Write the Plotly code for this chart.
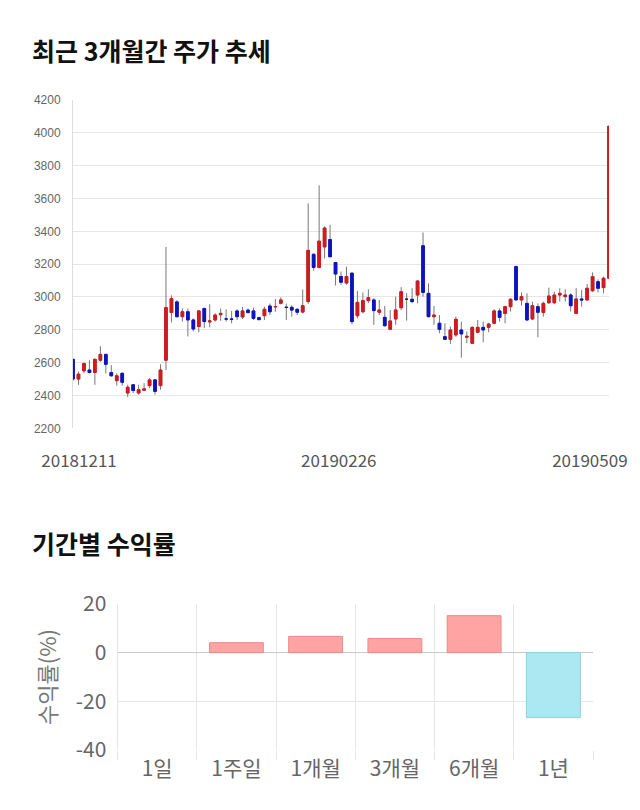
import plotly.graph_objects as go

# ---- price data (OHLC) ----
opens = [2620, 2500, 2550, 2555, 2540, 2615, 2650, 2540, 2490, 2535,
         2415, 2465, 2415, 2432, 2460, 2495, 2460, 2615, 2905, 2970,
         2880, 2910, 2860, 2820, 2930, 2848, 2860, 2892, 2866, 2866,
         2915, 2878, 2920, 2915, 2874, 2886, 2945, 2940, 2962, 2938,
         2937, 2925, 2908, 2972, 3260, 3180, 3305, 3350, 3210, 3125,
         3085, 3145, 2886, 2910, 2978, 2982, 2907, 2876, 2803, 2866,
         2935, 2986, 2986, 3012, 3312, 3022, 2880, 2840, 2758, 2742,
         2769, 2799, 2755, 2718, 2785, 2815, 2815, 2840, 2915, 2900,
         2941, 3185, 2982, 2961, 2866, 2941, 2905, 2965, 2965, 3012,
         3002, 3012, 2900, 2988, 2982, 3038, 3093, 3057, 3114]
highs = [2625, 2545, 2600, 2615, 2625, 2700, 2655, 2585, 2535, 2540,
         2465, 2470, 2465, 2475, 2505, 2500, 2590, 3305, 3010, 2980,
         2930, 2930, 2870, 2920, 2935, 2955, 2900, 2930, 2925, 2915,
         2925, 2940, 2930, 2935, 2880, 2940, 2960, 2988, 2998, 2960,
         2950, 2930, 3045, 3570, 3265, 3680, 3430, 3440, 3210, 3155,
         3185, 3150, 3036, 3028, 3047, 2992, 2982, 2945, 2920, 3002,
         3060, 3023, 3053, 3104, 3393, 3083, 2945, 2890, 2840, 2820,
         2880, 2850, 2790, 2820, 2860, 2850, 2843, 2925, 2931, 2947,
         2992, 3191, 3028, 3022, 2972, 2961, 2972, 3057, 3032, 3053,
         3047, 3022, 3053, 3043, 3079, 3150, 3107, 3124, 4040]
lows = [2490, 2465, 2535, 2535, 2465, 2605, 2535, 2515, 2460, 2460,
        2390, 2415, 2405, 2430, 2445, 2405, 2435, 2555, 2845, 2875,
        2850, 2760, 2790, 2785, 2810, 2815, 2850, 2855, 2850, 2840,
        2860, 2865, 2900, 2860, 2858, 2860, 2890, 2910, 2955, 2860,
        2880, 2890, 2900, 2958, 3160, 3175, 3235, 3245, 3070, 3075,
        3075, 2833, 2870, 2900, 2962, 2830, 2890, 2820, 2800, 2830,
        2920, 2856, 2962, 2962, 3002, 2876, 2830, 2779, 2742, 2714,
        2758, 2630, 2718, 2718, 2779, 2724, 2785, 2833, 2850, 2840,
        2911, 2982, 2947, 2856, 2860, 2755, 2880, 2957, 2957, 2972,
        2972, 2911, 2900, 2941, 2978, 3032, 3028, 3022, 3110]
closes = [2500, 2530, 2595, 2540, 2620, 2650, 2590, 2520, 2520, 2480,
          2450, 2430, 2435, 2440, 2495, 2425, 2555, 2935, 2990, 2880,
          2910, 2860, 2805, 2915, 2850, 2854, 2890, 2900, 2866, 2864,
          2880, 2915, 2905, 2870, 2862, 2925, 2910, 2942, 2982, 2936,
          2920, 2907, 2947, 3284, 3180, 3340, 3420, 3245, 3140, 3090,
          3125, 2850, 2967, 2978, 2996, 2917, 2921, 2825, 2854, 2921,
          3032, 2986, 2972, 3097, 3028, 2880, 2890, 2803, 2742, 2799,
          2864, 2775, 2760, 2815, 2815, 2799, 2835, 2915, 2876, 2941,
          2986, 2982, 3002, 2860, 2947, 2907, 2961, 3006, 3012, 3022,
          3012, 2947, 2988, 2982, 3053, 3124, 3053, 3114, 4040]
date_labels = ["20181211", "20190226", "20190509"]
date_label_pos = [1.1, 48.6, 94.5]

# ---- period returns ----
periods = ["1일", "1주일", "1개월", "3개월", "6개월", "1년"]
returns = [0.0, 4.1, 6.7, 5.8, 15.2, -26.7]
return_ticks = [-40, -20, 0, 20]
return_tick_text = ["-40", "-20", "0", "20"]

RED = "#d4191e"
BLUE = "#0c14c0"
WICK = "#777777"

idx = list(range(len(opens)))
body_hi = [max(o, c) for o, c in zip(opens, closes)]
body_lo = [min(o, c) for o, c in zip(opens, closes)]

fig = go.Figure()
# wicks
fig.add_trace(go.Candlestick(
    x=idx, open=opens, high=highs, low=lows, close=closes,
    increasing=dict(line=dict(color=WICK, width=1), fillcolor=WICK),
    decreasing=dict(line=dict(color=WICK, width=1), fillcolor=WICK),
    whiskerwidth=0, showlegend=False, hoverinfo="skip",
    xaxis="x", yaxis="y"))
# bodies
fig.add_trace(go.Candlestick(
    x=idx, open=opens, high=body_hi, low=body_lo, close=closes,
    increasing=dict(line=dict(color=RED, width=1), fillcolor=RED),
    decreasing=dict(line=dict(color=BLUE, width=1), fillcolor=BLUE),
    whiskerwidth=0, showlegend=False,
    xaxis="x", yaxis="y"))

bar_fill = ["rgba(255,163,163,1)" if v >= 0 else "rgba(172,232,242,1)" for v in returns]
bar_line = ["rgb(232,140,140)" if v >= 0 else "rgb(140,210,225)" for v in returns]
bar_lw = [1 if v != 0 else 0 for v in returns]
fig.add_trace(go.Bar(
    x=periods, y=returns, xaxis="x2", yaxis="y2",
    marker=dict(color=bar_fill, line=dict(color=bar_line, width=bar_lw)),
    showlegend=False))

FONT = "Noto Sans CJK KR"
W, H = 640, 810

fig.update_layout(
    width=W, height=H,
    margin=dict(l=0, r=0, t=0, b=0, autoexpand=False),
    paper_bgcolor="white", plot_bgcolor="white",
    font=dict(family=FONT, color="#666"),
    bargap=0.32,
    showlegend=False,
    xaxis=dict(
        domain=[73 / W, 609 / W], anchor="y", automargin=False,
        range=[0, len(opens) - 1],
        rangeslider=dict(visible=False),
        showgrid=False, zeroline=False, showline=False,
        tickmode="array", tickvals=date_label_pos, ticktext=date_labels,
        ticks="outside", ticklen=17, tickcolor="rgba(0,0,0,0)",
        tickfont=dict(size=17, color="#555", family=FONT),
    ),
    yaxis=dict(
        domain=[1 - 428.3 / H, 1 - 100 / H], anchor="x", automargin=False,
        range=[2200, 4200], dtick=200,
        showgrid=True, gridcolor="#e6e6e6", gridwidth=1,
        zeroline=False, showline=True, linecolor="#dddddd", linewidth=1,
        ticks="outside", ticklen=9, tickcolor="rgba(0,0,0,0)",
        tickfont=dict(size=12, color="#666", family="Liberation Sans"),
    ),
    xaxis2=dict(
        domain=[117.5 / W, 593 / W], anchor="y2", automargin=False,
        type="category", range=[-0.5, 5.5],
        tickson="boundaries", showgrid=True, gridcolor="#e6e6e6",
        ticks="outside", ticklen=9, tickcolor="#e6e6e6",
        ticklabelstandoff=4,
        showline=False, zeroline=False,
        tickfont=dict(size=21, color="#666", family=FONT),
    ),
    yaxis2=dict(
        domain=[1 - 750 / H, 1 - 604 / H], anchor="x2", automargin=False,
        range=[-40, 20], tickmode="array",
        tickvals=return_ticks, ticktext=return_tick_text,
        showgrid=True, gridcolor="#e6e6e6",
        zeroline=True, zerolinecolor="#c8c8c8", zerolinewidth=1,
        showline=True, linecolor="#e6e6e6",
        ticks="outside", ticklen=6, tickcolor="rgba(0,0,0,0)",
        tickfont=dict(size=21, color="#666", family=FONT),
        title=dict(text="수익률(%)", font=dict(size=22, color="#777", family=FONT), standoff=12),
    ),
    annotations=[
        dict(text="<b>최근 3개월간 주가 추세</b>", x=30 / W, y=1 - 50 / H,
             xref="paper", yref="paper", xanchor="left", yanchor="middle",
             showarrow=False, font=dict(size=25, color="#111", family=FONT)),
        dict(text="<b>기간별 수익률</b>", x=30 / W, y=1 - 543 / H,
             xref="paper", yref="paper", xanchor="left", yanchor="middle",
             showarrow=False, font=dict(size=25, color="#111", family=FONT)),
    ],
)

fig.write_html("out.html")
